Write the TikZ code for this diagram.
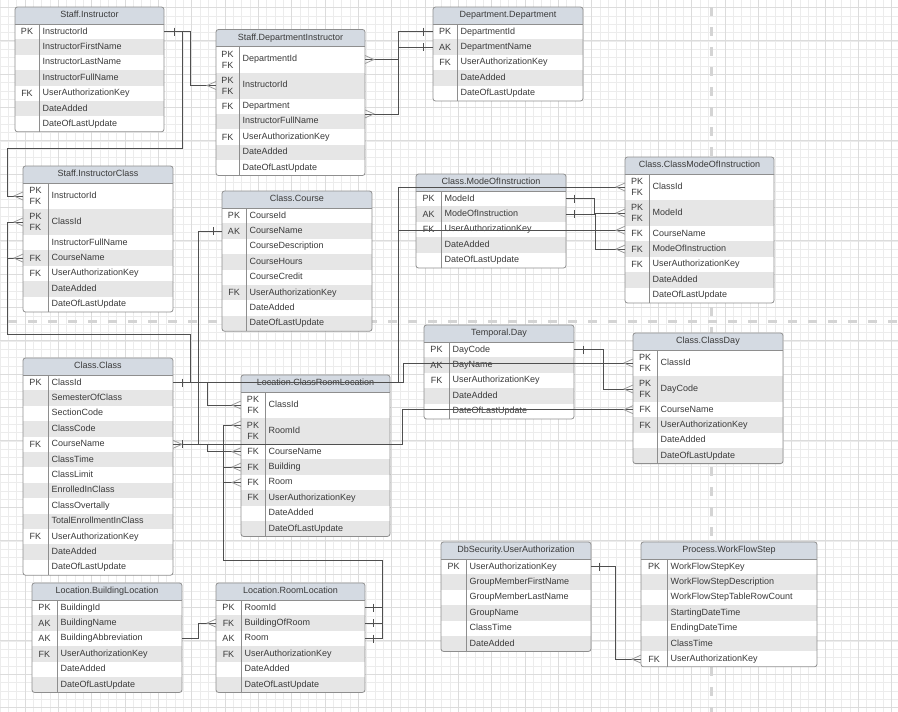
\documentclass[tikz,border=0pt]{standalone}
\usepackage{fontspec}
\setmainfont{Liberation Sans}

\definecolor{gridlo}{HTML}{ECECEC}
\definecolor{gridhi}{HTML}{DCDCDC}
\definecolor{sepgray}{HTML}{D4D4D4}
\definecolor{headgray}{HTML}{D4DAE2}
\definecolor{rowgray}{HTML}{E6E6E6}
\definecolor{edgegray}{HTML}{8E8E8E}
\definecolor{txtgray}{HTML}{3A3A3A}
\definecolor{linkgray}{HTML}{4F4F4F}
\definecolor{footgray}{HTML}{9C9C9C}

\newcommand{\erfont}{\fontsize{9}{11}\selectfont}

% \ertable{id}{title}{left}{top}{width}{key column width}{key/field/height list}
% height 1 = single row, 2 = double row (two stacked key labels)
\newcommand{\ertable}[7]{%
  \xdef\erH{17}%
  \foreach \erK/\erF/\erHt in {#7}{%
    \pgfmathsetmacro{\erTmp}{\erH+(\erHt==2 ? 26 : 15.4)}%
    \xdef\erH{\erTmp}}%
  \begin{scope}
    \clip[rounded corners=2.5pt] (#3,#4) rectangle ++(#5,\erH);
    \pgfmathsetmacro{\erStart}{#4+17}%
    \xdef\erY{\erStart}%
    \foreach[count=\erN] \erK/\erF/\erHt in {#7}{%
      \pgfmathsetmacro{\erRH}{\erHt==2 ? 26 : 15.4}%
      \ifodd\erN\relax\def\erFill{white}\else\def\erFill{rowgray}\fi
      \node[rowcell, fill=\erFill, minimum width=#5pt, minimum height=\erRH pt, anchor=north west] (#1-\erN) at (#3,\erY) {};
      \node[keytxt] at (#3+#6/2,\erY+\erRH/2) {\erK};
      \node[fieldtxt] at (#3+#6+3.5,\erY+\erRH/2) {\erF};
      \pgfmathsetmacro{\erNext}{\erY+\erRH}%
      \xdef\erY{\erNext}}%
    \node[headcell, minimum width=#5pt, minimum height=17pt, anchor=north west] (#1) at (#3,#4) {#2};
  \end{scope}
  \draw[tblborder] (#3,#4+17) -- ++(#5,0);
  \draw[tblborder] (#3+#6,#4+17) -- (#3+#6,#4+\erH);
  \draw[tblborder, rounded corners=2.5pt] (#3,#4) rectangle ++(#5,\erH);
}

% crow's foot (many) at a table edge, opening towards the table
\newcommand{\crowW}[1]{\draw[crow] ([yshift=4]#1) -- ([xshift=-9]#1) -- ([yshift=-4]#1);}
\newcommand{\crowE}[1]{\draw[crow] ([yshift=4]#1) -- ([xshift=9]#1) -- ([yshift=-4]#1);}
% bar (one) a little way out from a table edge
\newcommand{\tickE}[2][9]{\draw[tickmark] ([xshift=#1,yshift=4]#2) -- ([xshift=#1,yshift=-4]#2);}
\newcommand{\tickW}[2][9]{\draw[tickmark] ([xshift=-#1,yshift=4]#2) -- ([xshift=-#1,yshift=-4]#2);}

\begin{document}
\begin{tikzpicture}[x=1pt,y=-1pt,
  gridminor/.style={draw=gridlo, line width=0.6pt},
  gridmajor/.style={draw=gridhi, line width=0.8pt},
  sepline/.style={draw=sepgray, line width=3pt, dash pattern=on 9pt off 11pt},
  rowcell/.style={inner sep=0pt, outer sep=0pt, draw=none},
  headcell/.style={inner sep=0pt, outer sep=0pt, fill=headgray, text=txtgray, font=\erfont, text height=6.5pt, text depth=1.8pt},
  keytxt/.style={inner sep=0pt, text=txtgray, font=\erfont, align=center},
  fieldtxt/.style={inner sep=0pt, anchor=west, text=txtgray, font=\erfont, text height=6.5pt, text depth=1.8pt},
  tblborder/.style={draw=edgegray, line width=0.8pt},
  conn/.style={draw=linkgray, line width=0.8pt},
  crow/.style={draw=footgray, line width=0.8pt},
  tickmark/.style={draw=linkgray, line width=0.8pt}]

\useasboundingbox (0,0) rectangle (898,712);
\fill[white] (0,0) rectangle (898,712);

% background grid
\foreach \gi in {0,...,107} {\draw[gridminor] (\gi*8.33333,0) -- (\gi*8.33333,712);}
\foreach \gj in {1,...,85} {\draw[gridminor] (0,\gj*8.33333-0.8333) -- (898,\gj*8.33333-0.8333);}
\foreach \gi in {0,...,26} {\draw[gridmajor] (25+\gi*33.3333,0) -- (25+\gi*33.3333,712);}
\foreach \gj in {0,...,21} {\draw[gridmajor] (0,7.5+\gj*33.3333) -- (898,7.5+\gj*33.3333);}

% page separators
\draw[sepline] (8,321) -- (898,321);
\draw[sepline] (711,7) -- (711,712);

% tables
\ertable{inst}{Staff.Instructor}{15}{7}{149}{24}{PK/InstructorId/1, /InstructorFirstName/1, /InstructorLastName/1, /InstructorFullName/1, FK/UserAuthorizationKey/1, /DateAdded/1, /DateOfLastUpdate/1}

\ertable{dinst}{Staff.DepartmentInstructor}{216}{29.5}{149}{23}{PK\\FK/DepartmentId/2, PK\\FK/InstructorId/2, FK/Department/1, /InstructorFullName/1, FK/UserAuthorizationKey/1, /DateAdded/1, /DateOfLastUpdate/1}

\ertable{dept}{Department.Department}{433}{7}{150}{24}{PK/DepartmentId/1, AK/DepartmentName/1, FK/UserAuthorizationKey/1, /DateAdded/1, /DateOfLastUpdate/1}

\ertable{ic}{Staff.InstructorClass}{23}{166}{150}{25}{PK\\FK/InstructorId/2, PK\\FK/ClassId/2, /InstructorFullName/1, FK/CourseName/1, FK/UserAuthorizationKey/1, /DateAdded/1, /DateOfLastUpdate/1}

\ertable{course}{Class.Course}{222}{191}{150}{24}{PK/CourseId/1, AK/CourseName/1, /CourseDescription/1, /CourseHours/1, /CourseCredit/1, FK/UserAuthorizationKey/1, /DateAdded/1, /DateOfLastUpdate/1}

\ertable{moi}{Class.ModeOfInstruction}{416}{174}{150}{25}{PK/ModeId/1, AK/ModeOfInstruction/1, FK/UserAuthorizationKey/1, /DateAdded/1, /DateOfLastUpdate/1}

\ertable{cmoi}{Class.ClassModeOfInstruction}{625}{157}{149}{24}{PK\\FK/ClassId/2, PK\\FK/ModeId/2, FK/CourseName/1, FK/ModeOfInstruction/1, FK/UserAuthorizationKey/1, /DateAdded/1, /DateOfLastUpdate/1}

\ertable{class}{Class.Class}{23}{358}{150}{25}{PK/ClassId/1, /SemesterOfClass/1, /SectionCode/1, /ClassCode/1, FK/CourseName/1, /ClassTime/1, /ClassLimit/1, /EnrolledInClass/1, /ClassOvertally/1, /TotalEnrollmentInClass/1, FK/UserAuthorizationKey/1, /DateAdded/1, /DateOfLastUpdate/1}

\ertable{crl}{Location.ClassRoomLocation}{241}{375}{149}{24}{PK\\FK/ClassId/2, PK\\FK/RoomId/2, FK/CourseName/1, FK/Building/1, FK/Room/1, FK/UserAuthorizationKey/1, /DateAdded/1, /DateOfLastUpdate/1}

\ertable{day}{Temporal.Day}{424}{325}{150}{25}{PK/DayCode/1, AK/DayName/1, FK/UserAuthorizationKey/1, /DateAdded/1, /DateOfLastUpdate/1}

\ertable{cday}{Class.ClassDay}{633}{333}{150}{24}{PK\\FK/ClassId/2, PK\\FK/DayCode/2, FK/CourseName/1, FK/UserAuthorizationKey/1, /DateAdded/1, /DateOfLastUpdate/1}

\ertable{bldg}{Location.BuildingLocation}{32}{583}{150}{25}{PK/BuildingId/1, AK/BuildingName/1, AK/BuildingAbbreviation/1, FK/UserAuthorizationKey/1, /DateAdded/1, /DateOfLastUpdate/1}

\ertable{room}{Location.RoomLocation}{216}{583}{149}{25}{PK/RoomId/1, FK/BuildingOfRoom/1, AK/Room/1, FK/UserAuthorizationKey/1, /DateAdded/1, /DateOfLastUpdate/1}

\ertable{ua}{DbSecurity.UserAuthorization}{441}{542}{150}{25}{PK/UserAuthorizationKey/1, /GroupMemberFirstName/1, /GroupMemberLastName/1, /GroupName/1, /ClassTime/1, /DateAdded/1}

\ertable{wfs}{Process.WorkFlowStep}{641}{542}{176}{26}{PK/WorkFlowStepKey/1, /WorkFlowStepDescription/1, /WorkFlowStepTableRowCount/1, /StartingDateTime/1, /EndingDateTime/1, /ClassTime/1, FK/UserAuthorizationKey/1}

% attachment points that sit off a row centre
\coordinate (crlRoomPt) at ([yshift=6]crl-2.west);
\coordinate (cmoiCoursePt) at ([yshift=3.5]cmoi-3.west);

% relationships
\begin{scope}[conn]
  \draw (inst-1.east) -| ([xshift=-26]dinst-2.west) -- (dinst-2.west);
  \draw (inst-1.east) -| (182,148) -| ([xshift=-16]ic-1.west) -- (ic-1.west);

  \draw (dept-1.west) -| ([xshift=33]dinst-1.east) -- (dinst-1.east);
  \draw (dept-2.west) -| ([xshift=33]dinst-3.south east) -- (dinst-3.south east);

  \draw (course-2.west) -| ([xshift=25]class-5.east) -- (class-5.east);
  \draw (class-5.east) -| ([xshift=-34]crl-3.west) -- (crl-3.west);
  \draw (class-5.east) -| ([xshift=-231]cday-3.west) -- (cday-3.west);

  \draw (class-1.east) -| ([xshift=-34]crl-1.west) -- (crl-1.west);
  \draw (class-1.east) -| ([xshift=-227]cmoi-1.west) -- (cmoi-1.west);
  \draw (class-1.east) -| ([xshift=-227]cmoiCoursePt) -- (cmoiCoursePt);
  \draw (class-1.east) -| ([xshift=-230]cday-1.west) -- (cday-1.west);
  \draw (class-1.east) -| (190,334) -| ([xshift=-16]ic-2.west) -- (ic-2.west);
  \draw (class-1.east) -| (190,334) -| ([xshift=-16]ic-4.west) -- (ic-4.west);

  \draw (moi-1.east) -| ([xshift=-31]cmoi-2.west) -- (cmoi-2.west);
  \draw (moi-2.east) -| ([xshift=-30]cmoi-4.west) -- (cmoi-4.west);

  \draw (day-1.east) -| ([xshift=-30]cday-2.west) -- (cday-2.west);

  \draw (room-1.east) -| (382,560) -| ([xshift=-18]crlRoomPt) -- (crlRoomPt);
  \draw (room-2.east) -| (382,560) -| ([xshift=-18]crl-4.west) -- (crl-4.west);
  \draw (room-3.east) -| (382,560) -| ([xshift=-18]crl-5.west) -- (crl-5.west);
  \draw (bldg-3.east) -| ([xshift=-18]room-2.west) -- (room-2.west);

  \draw (ua-1.east) -| ([xshift=-26]wfs-7.west) -- (wfs-7.west);
\end{scope}

% many ends
\crowW{dinst-2.west}
\crowE{dinst-1.east}
\crowE{dinst-3.south east}
\crowW{ic-1.west}
\crowW{ic-2.west}
\crowW{ic-4.west}
\crowE{class-5.east}
\crowW{crl-1.west}
\crowW{crlRoomPt}
\crowW{crl-3.west}
\crowW{crl-4.west}
\crowW{crl-5.west}
\crowW{cmoi-1.west}
\crowW{cmoi-2.west}
\crowW{cmoiCoursePt}
\crowW{cmoi-4.west}
\crowW{cday-1.west}
\crowW{cday-2.west}
\crowW{cday-3.west}
\crowW{room-2.west}
\crowW{wfs-7.west}

% one ends
\tickE[10]{inst-1.east}
\tickW[10]{dept-1.west}
\tickW[10]{dept-2.west}
\tickW{course-2.west}
\tickE{class-1.east}
\tickE{class-5.east}
\tickE[8]{moi-1.east}
\tickE[8]{moi-2.east}
\tickE{day-1.east}
\tickE[8]{room-1.east}
\tickE[8]{room-2.east}
\tickE[8]{room-3.east}
\tickE[8]{ua-1.east}

\end{tikzpicture}
\end{document}
